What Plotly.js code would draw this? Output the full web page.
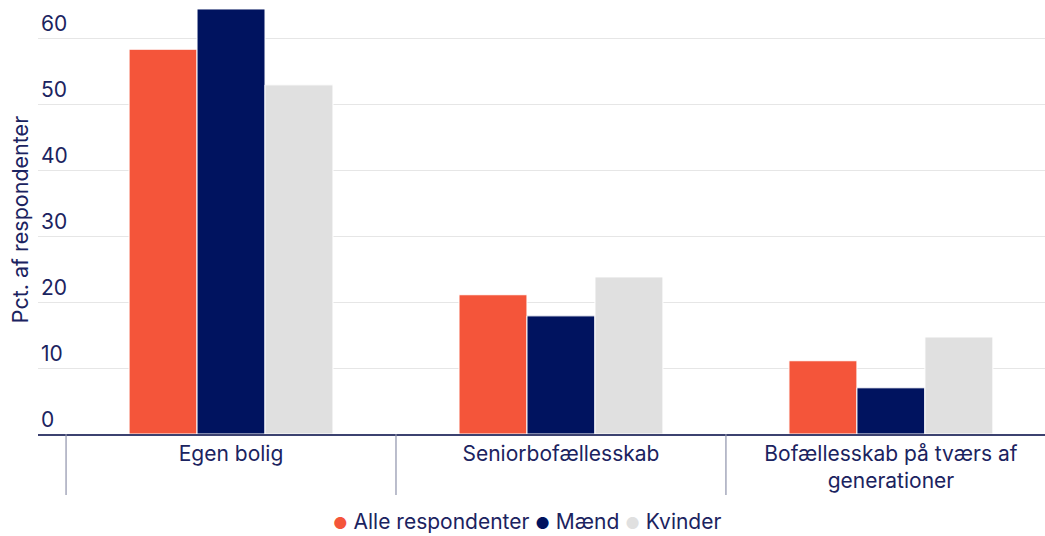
<!DOCTYPE html>
<html>
<head>
<meta charset="utf-8">
<script src="https://cdn.plot.ly/plotly-3.0.1.min.js"></script>
<style>html,body{margin:0;padding:0;background:#fff;}#chart{width:1045px;height:536px;}</style>
</head>
<body>
<div id="chart"></div>
<script>
const categories = ["Egen bolig", "Seniorbofællesskab", "Bofællesskab på tværs af<br>generationer"];
const seriesNames = ["Alle respondenter", "Mænd", "Kvinder"];
const alle = [58.3, 21.1, 11.1];
const maend = [64.4, 17.9, 7.0];
const kvinder = [52.9, 23.8, 14.7];
const yTicks = [0, 10, 20, 30, 40, 50, 60];

const colors = ["#F4553A", "#00135F", "#E0E0E0"];
const textColor = "#1B2360";
const font = "Inter, 'Open Sans', sans-serif";
const values = [alle, maend, kvinder];

const traces = values.map((v, i) => ({
  type: "bar", x: [0, 1, 2], y: v, name: seriesNames[i],
  marker: {color: colors[i], line: {color: "#ffffff", width: 1}},
  showlegend: false, hoverinfo: "y"
}));

const dividers = [-0.5, 0.5, 1.5, 2.5].map(x => ({
  type: "line", xref: "x", yref: "paper", x0: x, x1: x, y0: 0, y1: -0.142,
  line: {color: "#8E92AA", width: 1.2}
}));

const legendText = seriesNames.map((n, i) =>
  `<span style="color:${colors[i]};font-size:16px">●</span> ${n}`).join(" ");

const layout = {
  width: 1045, height: 536,
  margin: {l: 38, r: 0, t: 5, b: 102, autoexpand: false},
  paper_bgcolor: "#fff", plot_bgcolor: "#fff",
  font: {family: font, color: textColor, size: 21},
  barmode: "group", bargap: 0.382, bargroupgap: 0,
  showlegend: false,
  xaxis: {
    range: [-0.585, 2.467], tickvals: [0, 1, 2], ticktext: categories,
    showgrid: false, zeroline: false, showline: true, linecolor: "#3C4270", linewidth: 1.5,
    ticks: "", tickfont: {size: 21, color: textColor}, fixedrange: true, automargin: false
  },
  yaxis: {
    range: [0, 65], tickvals: yTicks, ticktext: yTicks.map(String),
    showgrid: true, gridcolor: "#E6E6E6", gridwidth: 1, zeroline: false, showline: false,
    ticks: "", ticklabelposition: "inside top", tickfont: {size: 21, color: textColor},
    title: {text: "Pct. af respondenter", font: {size: 21.5, color: textColor}, standoff: 6},
    fixedrange: true, automargin: false
  },
  annotations: [{
    xref: "paper", yref: "paper", x: 0.4856, y: -0.205, xanchor: "center", yanchor: "middle",
    text: legendText, showarrow: false, font: {size: 21, color: textColor}
  }],
  shapes: dividers
};

Plotly.newPlot("chart", traces, layout, {displayModeBar: false, staticPlot: true});
</script>
</body>
</html>
